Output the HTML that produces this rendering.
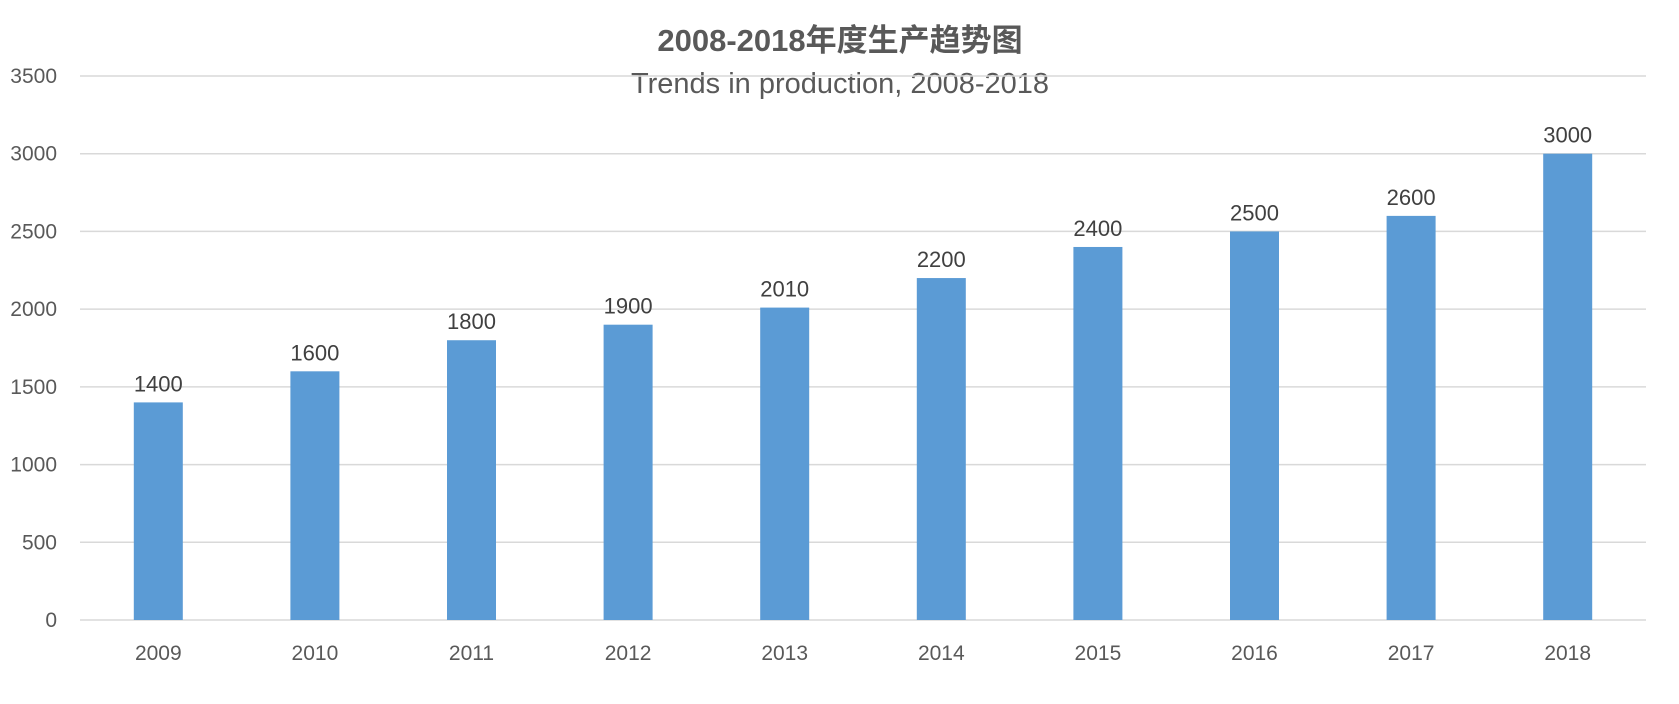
<!DOCTYPE html>
<html><head><meta charset="utf-8"><style>
body{margin:0;background:#fff;}
svg{display:block;font-family:"Liberation Sans","Noto Sans CJK SC",sans-serif;}
</style></head><body>
<svg id="chart" width="1679" height="704">
<text x="840" y="51" text-anchor="middle" font-size="31" font-weight="bold" fill="#595959">2008-2018年度生产趋势图</text>
<text x="840" y="93" text-anchor="middle" font-size="29" fill="#595959">Trends in production, 2008-2018</text>
<g id="grid"></g><g id="bars"></g><g id="labels"></g>
</svg>
<script>
const categories=["2009","2010","2011","2012","2013","2014","2015","2016","2017","2018"];
const values=[1400,1600,1800,1900,2010,2200,2400,2500,2600,3000];
const yTicks=[0,500,1000,1500,2000,2500,3000,3500];
const NS="http://www.w3.org/2000/svg";
const L=80,R=1646,T=76,B=620,yMax=3500;
const y=v=>B-(v/yMax)*(B-T);
const step=(R-L)/categories.length;
const x=i=>L+step*(i+0.5);
const bw=49;
function mk(tag,attrs,parent,txt){const e=document.createElementNS(NS,tag);for(const k in attrs)e.setAttribute(k,attrs[k]);if(txt!==undefined)e.textContent=txt;parent.appendChild(e);return e;}
const g=document.getElementById('grid'),b=document.getElementById('bars'),lb=document.getElementById('labels');
yTicks.forEach(t=>{
 const ln=mk('line',{x1:L,x2:R,y1:y(t),y2:y(t),stroke:'#d9d9d9','stroke-width':1.5},g);
 
 
 const tx=mk('text',{x:57,y:y(t)+7,'text-anchor':'end','font-size':21,fill:'#595959'},g,String(t));
 
 
});
categories.forEach((c,i)=>{
 const r=mk('rect',{x:x(i)-bw/2,y:y(values[i]),width:bw,height:B-y(values[i]),fill:'#5b9bd5'},b);
 
 
 const v=mk('text',{x:x(i),y:y(values[i])-11,'text-anchor':'middle','font-size':22,fill:'#404040'},lb,String(values[i]));
 
 
 const xl=mk('text',{x:x(i),y:660,'text-anchor':'middle','font-size':21,fill:'#595959'},lb,c);
 
 
});
</script>
</body></html>
